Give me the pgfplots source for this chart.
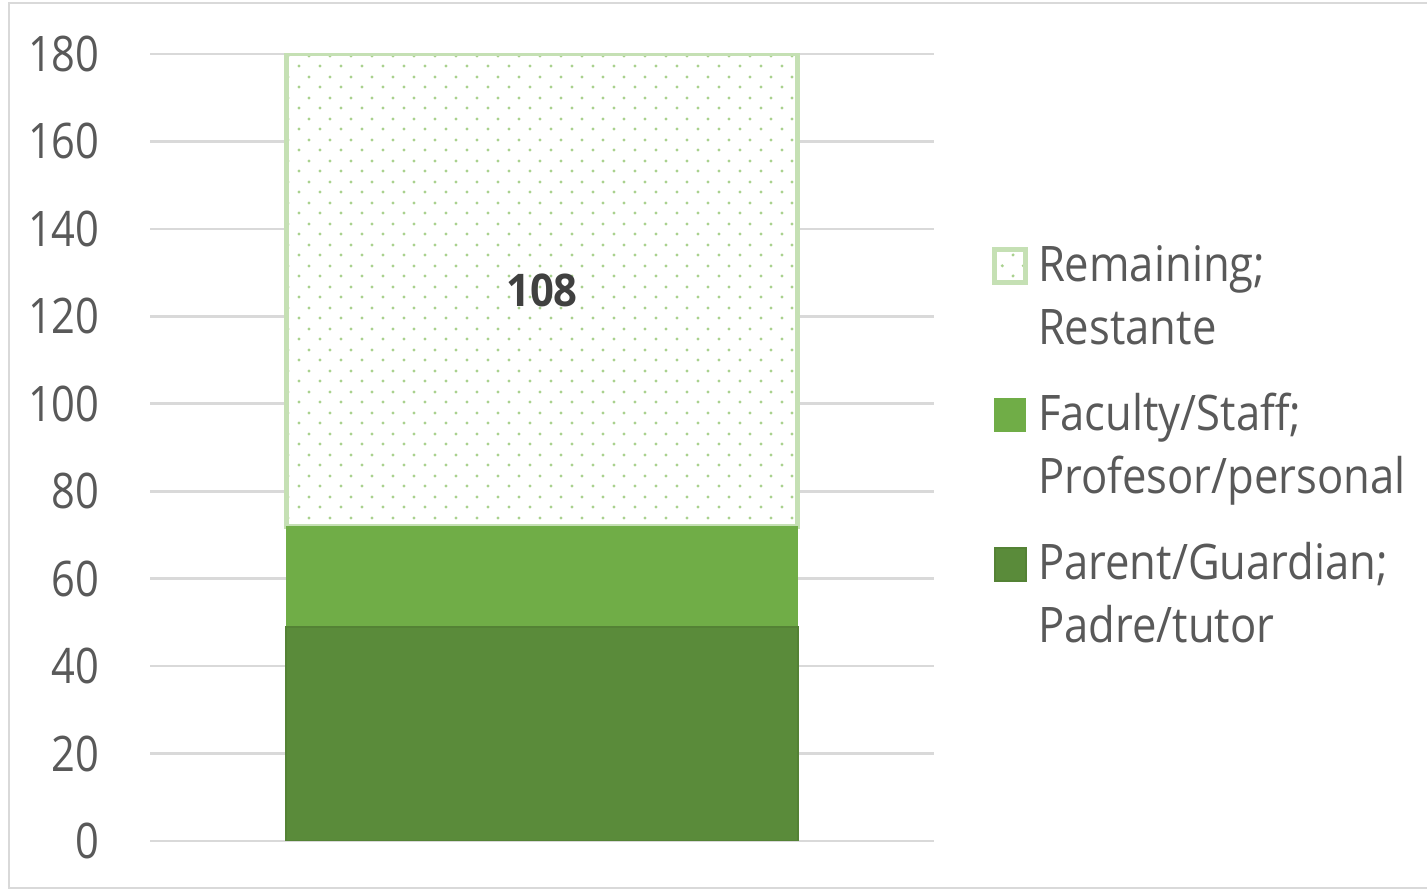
\documentclass[border=0pt]{standalone}
\usepackage{pgfplots}
\pgfplotsset{compat=1.18}
\usepackage{fontspec}
\setmainfont{Open Sans}[FakeStretch=0.85]
\newfontfamily\legfont{Open Sans}[FakeStretch=0.89]
\newfontfamily\numfont{Open Sans}[FakeStretch=0.93]
\usetikzlibrary{patterns.meta}
\definecolor{txt}{HTML}{595959}
\definecolor{txtdark}{HTML}{404040}
\definecolor{gridc}{HTML}{D9D9D9}
\definecolor{parentf}{HTML}{5A8B3A}
\definecolor{parentd}{HTML}{548235}
\definecolor{fac}{HTML}{70AD47}
\definecolor{remb}{HTML}{C5E0B4}
\definecolor{dotc}{HTML}{A9D18E}
\tikzdeclarepattern{
  name=xldots,
  type=uncolored,
  bottom left={(0bp,0bp)},
  top right={(10.5bp,10.5bp)},
  tile size={(10.5bp,10.5bp)},
  code={
    \fill (2.6bp,2.6bp) circle (0.85bp);
    \fill (7.85bp,7.85bp) circle (0.85bp);
  }
}
\newcommand\lfont{\fontsize{24.5bp}{31.5bp}\selectfont}
\pgfplotsset{
  sq/.style={legend image code/.code={%
      \pgfpathrectangle{\pgfpoint{0bp}{-9.5bp}}{\pgfpoint{16.5bp}{31.5bp}}\pgfusepath{}%
      \draw[##1] (0.7bp,-0.6bp) rectangle (16bp,15.8bp);}},
  gap/.style={legend image code/.code={%
      \pgfpathrectangle{\pgfpoint{0bp}{-21bp}}{\pgfpoint{16.5bp}{43bp}}\pgfusepath{}}},
  parentstyle/.style={fill=parentf, draw=parentd, line width=1bp},
  facstyle/.style={fill=fac, draw=fac, line width=0.5bp},
  remstyle/.style={fill=white, draw=remb, line width=2.5bp,
    postaction={pattern=xldots, pattern color=dotc}},
}
\begin{document}
\begin{tikzpicture}[x=1bp,y=1bp]
\draw[gridc, line width=1bp, overlay] (4.5,0.8) rectangle (730,443.5);
\begin{axis}[
  at={(75bp,24.5bp)}, anchor=south west,
  scale only axis, width=392bp, height=393.5bp,
  xmin=-1, xmax=1, ymin=0, ymax=180,
  ybar stacked, bar width=1.3036,
  xtick=\empty, ytick={0,20,...,180},
  ymajorgrids, grid style={gridc, line width=1.3bp},
  axis line style={draw=none}, major tick length=0pt,
  tick label style={font=\lfont, text=txt},
  /pgf/number format/assume math mode=true,
  yticklabel style={inner sep=0pt, xshift=-25bp},
  legend cell align=left,
  legend style={at={(rel axis cs:1,0.7675)}, anchor=north west, xshift=29bp,
    draw=none, fill=none, font=\legfont\lfont, text=txt, inner sep=0pt,
    nodes={inner sep=0pt}, cells={anchor=base west}, row sep=0pt, column sep=5bp},
]
\addlegendimage{remstyle, sq}
\addlegendentry{Remaining;}
\addlegendimage{gap}
\addlegendentry{Restante}
\addlegendimage{facstyle, sq}
\addlegendentry{Faculty/Staff;}
\addlegendimage{gap}
\addlegendentry{Profesor/personal}
\addlegendimage{parentstyle, sq}
\addlegendentry{Parent/Guardian;}
\addlegendimage{gap}
\addlegendentry{Padre/tutor}

\addplot[parentstyle] coordinates {(0,49)};
\addplot[facstyle] coordinates {(0,23)};
\addplot[remstyle,
  point meta=explicit,
  nodes near coords,
  nodes near coords style={font=\numfont\fontsize{22.5bp}{26bp}\selectfont\bfseries, text=txtdark, anchor=center},
] coordinates {(0,108) [108]};
\end{axis}
\path[use as bounding box] (0,0) rectangle (713.5,445);
\end{tikzpicture}
\end{document}
